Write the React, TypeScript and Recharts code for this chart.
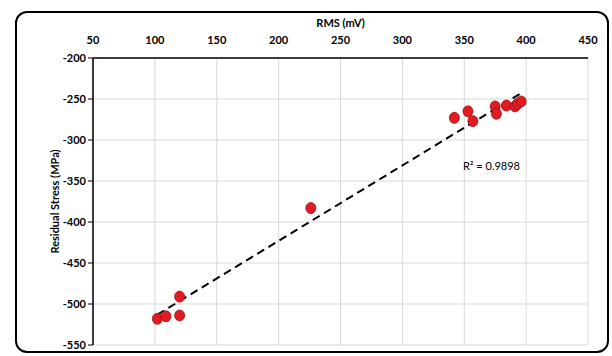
import React from "react";
import {
  ScatterChart,
  Scatter,
  XAxis,
  YAxis,
  CartesianGrid,
  ReferenceDot,
} from "recharts";

const rmsValues = [102, 109, 120, 120, 226, 342, 353, 357, 375, 376, 384, 391, 393, 396];
const stressValues = [-518, -515, -491, -514, -383, -273, -265, -277, -259, -268, -258, -259, -256, -253];
const trendX = [102, 398];
const trendY = [-513, -241];
const xTicks = [50, 100, 150, 200, 250, 300, 350, 400, 450];
const yTicks = [-550, -500, -450, -400, -350, -300, -250, -200];
const r2Text = "R² = 0.9898";

const points = rmsValues.map((x, i) => ({ x, y: stressValues[i] }));
const trend = trendX.map((x, i) => ({ x, y: trendY[i] }));

const FONT = "Lato, 'DejaVu Sans', sans-serif";
const TICK = { fontSize: 11, fill: "#000", fontWeight: 700, fontFamily: FONT };

export default function App() {
  return (
    <div style={{ position: "absolute", left: 0, top: 0, width: 612, height: 356, background: "#fff", overflow: "hidden" }}>
      <div
        style={{
          position: "absolute",
          left: 15,
          top: 11,
          width: 594,
          height: 342,
          border: "2px solid #000",
          borderRadius: 12,
          boxSizing: "border-box",
        }}
      />
      <ScatterChart width={612} height={356} margin={{ top: 0, right: 24, bottom: 11, left: 0 }}>
        <CartesianGrid stroke="#d9d9d9" strokeWidth={1} />
        <XAxis
          type="number"
          dataKey="x"
          orientation="top"
          domain={[50, 450]}
          ticks={xTicks}
          height={58}
          axisLine={{ stroke: "#000", strokeWidth: 1.5 }}
          tickLine={false}
          tickMargin={8}
          tick={TICK}
          label={{
            content: ({ viewBox }: any) => (
              <text
                x={viewBox.x + viewBox.width / 2}
                y={27}
                textAnchor="middle"
                fontSize={11}
                fontWeight={700}
                fontFamily={FONT}
                fill="#000"
              >
                RMS (mV)
              </text>
            ),
          }}
        />
        <YAxis
          type="number"
          dataKey="y"
          domain={[-550, -200]}
          ticks={yTicks}
          width={93}
          axisLine={{ stroke: "#000", strokeWidth: 1.5 }}
          tickLine={{ stroke: "#000" }}
          tickSize={5}
          tickMargin={2}
          tick={TICK}
          label={{
            content: ({ viewBox }: any) => {
              const cx = 59;
              const cy = viewBox.y + viewBox.height / 2;
              return (
                <text
                  x={cx}
                  y={cy}
                  transform={`rotate(-90 ${cx} ${cy})`}
                  textAnchor="middle"
                  fontSize={11}
                  fontWeight={700}
                  fontFamily={FONT}
                  fill="#000"
                >
                  Residual Stress (MPa)
                </text>
              );
            },
          }}
        />
        <Scatter
          data={trend}
          line={{ stroke: "#000", strokeWidth: 2, strokeDasharray: "8 5" }}
          shape={() => <g />}
          isAnimationActive={false}
        />
        <Scatter
          data={points}
          fill="#e01b22"
          shape={(p: any) => (
            <ellipse cx={p.cx} cy={p.cy} rx={5} ry={5.5} fill="#e01b22" stroke="#9b1014" strokeWidth={0.8} />
          )}
          isAnimationActive={false}
        />
        <ReferenceDot
          x={372}
          y={-332}
          r={0}
          fill="none"
          stroke="none"
          label={{ value: r2Text, position: "center", fontSize: 11, fontFamily: FONT, fill: "#000" }}
        />
      </ScatterChart>
    </div>
  );
}
